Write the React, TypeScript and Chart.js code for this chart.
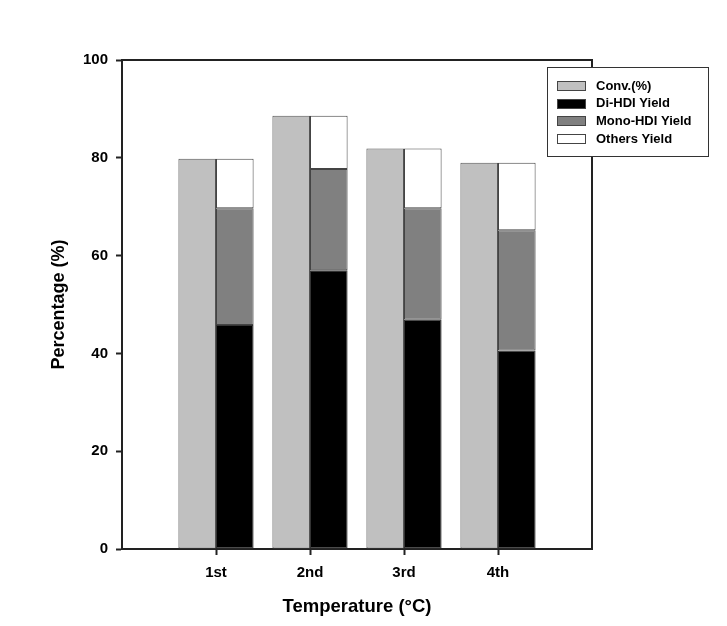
import React, { useEffect, useRef } from "react";
import { Chart, registerables } from "chart.js";

Chart.register(...registerables);

const categories = ["", "1st", "2nd", "3rd", "4th", ""];
const convValues = [null, 79.8, 88.6, 81.9, 79.0, null];
const diValues = [null, 45.8, 57.0, 46.9, 40.6, null];
const monoValues = [null, 23.9, 20.7, 22.8, 24.6, null];
const othersValues = [null, 10.1, 10.9, 12.2, 13.8, null];
const yTicks = [0, 20, 40, 60, 80, 100];

const FONT = "'Liberation Sans', Arial, sans-serif";

const framePlugin = {
  id: "frameAndLegend",
  afterDraw(chart: any) {
    const { ctx, chartArea } = chart;
    ctx.save();
    ctx.strokeStyle = "#222";
    ctx.lineWidth = 2;
    ctx.beginPath();
    ctx.moveTo(chartArea.left - 1, chartArea.top);
    ctx.lineTo(chartArea.right, chartArea.top);
    ctx.lineTo(chartArea.right, chartArea.bottom + 1);
    ctx.stroke();

    // legend box
    const bx = 547.5, by = 67.5, bw = 161, bh = 89;
    ctx.fillStyle = "#fff";
    ctx.fillRect(bx, by, bw, bh);
    ctx.lineWidth = 1;
    ctx.strokeStyle = "#333";
    ctx.strokeRect(bx, by, bw, bh);
    ctx.font = `bold 13px ${FONT}`;
    ctx.textBaseline = "middle";
    ctx.textAlign = "left";
    chart.data.datasets.forEach((ds: any, i: number) => {
      const cy = 85.5 + i * 17.7;
      ctx.fillStyle = ds.backgroundColor;
      ctx.fillRect(557.5, Math.round(cy - 4.5) + 0.5, 28, 9);
      ctx.strokeStyle = "#444";
      ctx.strokeRect(557.5, Math.round(cy - 4.5) + 0.5, 28, 9);
      ctx.fillStyle = "#000";
      ctx.fillText(ds.label, 596, cy + 0.5);
    });
    ctx.restore();
  },
};

export default function App() {
  const ref = useRef<HTMLCanvasElement | null>(null);
  useEffect(() => {
    if (!ref.current) return;
    const chart = new Chart(ref.current, {
      type: "bar",
      data: {
        labels: categories,
        datasets: [
          { label: "Conv.(%)", data: convValues, backgroundColor: "#c0c0c0", borderColor: "#555", borderWidth: 1, stack: "conv" },
          { label: "Di-HDI Yield", data: diValues, backgroundColor: "#000000", borderColor: "#333", borderWidth: 1, stack: "yield" },
          { label: "Mono-HDI Yield", data: monoValues, backgroundColor: "#808080", borderColor: "#444", borderWidth: 1, stack: "yield" },
          { label: "Others Yield", data: othersValues, backgroundColor: "#ffffff", borderColor: "#444", borderWidth: 1, stack: "yield" },
        ] as any,
      },
      options: {
        responsive: false,
        animation: false,
        devicePixelRatio: 1,
        layout: { padding: { left: 0, right: 135, top: 60, bottom: 0 } },
        datasets: { bar: { categoryPercentage: 0.8, barPercentage: 1.0, borderSkipped: false } },
        plugins: { legend: { display: false }, tooltip: { enabled: false } },
        scales: {
          x: {
            type: "category",
            offset: false,
            stacked: true,
            grid: {
              offset: false,
              drawOnChartArea: false,
              drawTicks: true,
              tickLength: 6,
              tickWidth: 2,
              tickColor: (c: any) => (c.tick && categories[c.index] === "" ? "rgba(0,0,0,0)" : "#222"),
            },
            border: { display: true, color: "#222", width: 2 },
            ticks: { color: "#000", font: { family: FONT, size: 15, weight: "bold" }, padding: 9, autoSkip: false, maxRotation: 0 },
            title: { display: true, text: "Temperature (°C)", color: "#000", font: { family: FONT, size: 18.5, weight: "bold" }, padding: { top: 0, bottom: 8 } },
            afterFit: (s: any) => { s.height = 77; },
          },
          y: {
            min: 0,
            max: 100,
            stacked: true,
            afterBuildTicks: (s: any) => { s.ticks = yTicks.map((v) => ({ value: v })); },
            grid: { drawOnChartArea: false, drawTicks: true, tickLength: 6, tickWidth: 2, tickColor: "#222" },
            border: { display: true, color: "#222", width: 2 },
            ticks: { color: "#000", font: { family: FONT, size: 15, weight: "bold" }, padding: 8 },
            title: { display: true, text: "Percentage (%)", color: "#000", font: { family: FONT, size: 18, weight: "bold" }, padding: { top: 48, bottom: 0 } },
            afterFit: (s: any) => { s.width = 122; },
          },
        },
      } as any,
      plugins: [framePlugin],
    });
    return () => chart.destroy();
  }, []);
  return (
    <div style={{ position: "fixed", left: 0, top: 0, width: 727, height: 626, background: "#fff" }}>
      <canvas ref={ref} width={727} height={626} style={{ display: "block" }} />
    </div>
  );
}
